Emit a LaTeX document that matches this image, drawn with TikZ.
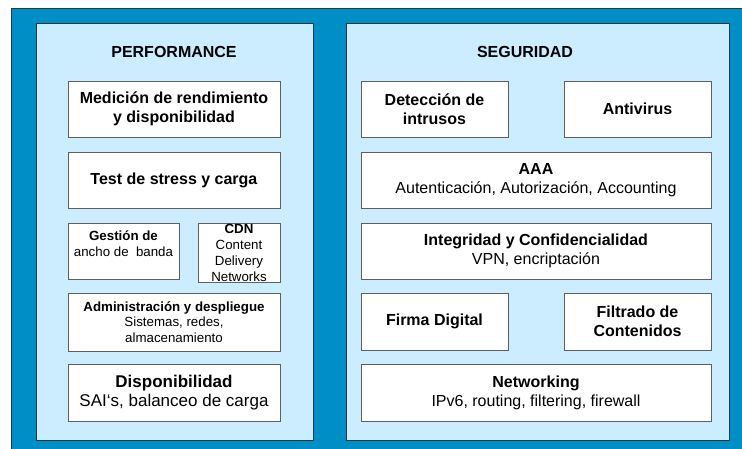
\documentclass[tikz,border=0pt]{standalone}
\usepackage{fontspec}
\setmainfont{Liberation Sans}
\usepackage{xcolor}
\definecolor{sblue}{RGB}{0,142,198}
\definecolor{slight}{RGB}{204,236,255}
\definecolor{sline}{RGB}{45,55,60}
\definecolor{sgray}{RGB}{95,95,95}

\begin{document}
\begin{tikzpicture}[x=1pt,y=-1pt]
  \tikzset{panel/.style={draw=sline,line width=1pt,fill=slight,minimum width=#1,minimum height=417pt,inner sep=0pt},
    box/.style={draw=sgray,line width=1pt,fill=white,minimum width=#1,minimum height=56pt,inner sep=0pt,align=center,font=\fontsize{16}{19}\selectfont},
    small/.style={font=\fontsize{13.3}{16}\selectfont},
    head/.style={font=\fontsize{16}{19}\selectfont\bfseries}}

  \useasboundingbox (0,0) rectangle (742,448);
  \draw [fill=sblue,draw=sline,line width=1pt] (11,8) rectangle (745,451); % back
  \node [panel=277pt] (P) at (174.5,231.5) {}; % performance
  \node [panel=383pt] (S) at (537.5,231.5) {}; % seguridad
  \node [head] (Ph) at (174,52) {PERFORMANCE};
  \node [head] (Sh) at (525,52) {SEGURIDAD};

  % performance
  \node [box=212pt] (med) at (174,109) {\textbf{Medición de rendimiento}\\\textbf{y disponibilidad}};
  \node [box=212pt] (test) at (174,180) {\textbf{Test de stress y carga}};
  \node [box=111pt] (ges) at (123.5,251) {};
  \node [small, align=center, yshift=7pt] at (ges.center) {\textbf{Gestión de}\\ancho de\ \ banda};
  \node [box=82pt, minimum height=59pt, small] (cdn) at (239,252.5) {\textbf{CDN}\\Content\\Delivery\\Networks};
  \node [box=212pt, minimum height=58pt, font=\fontsize{13.3}{15.5}\selectfont] (adm) at (174,322) {\textbf{Administración y despliegue}\\Sistemas, redes,\\almacenamiento};
  \node [box=212pt, minimum height=57pt, font=\fontsize{17}{19.5}\selectfont] (disp) at (174,392.5) {\textbf{Disponibilidad}\\SAI\symbol{96}s, balanceo de carga};

  % seguridad
  \node [box=147pt] (det) at (434.5,109) {\textbf{Detección de}\\\textbf{intrusos}};
  \node [box=147pt] (anti) at (637.5,109) {\textbf{Antivirus}};
  \node [box=350pt] (aaa) at (536,180) {\textbf{AAA}\\Autenticación, Autorización, Accounting};
  \node [box=350pt] (int) at (536,251) {\textbf{Integridad y Confidencialidad}\\VPN, encriptación};
  \node [box=147pt, minimum height=57pt] (firma) at (434.5,321.5) {\textbf{Firma Digital}};
  \node [box=147pt, minimum height=57pt] (filt) at (637.5,321.5) {\textbf{Filtrado de}\\\textbf{Contenidos}};
  \node [box=350pt, minimum height=57pt] (net) at (536,392.5) {\textbf{Networking}\\IPv6, routing, filtering, firewall};
\end{tikzpicture}
\end{document}
